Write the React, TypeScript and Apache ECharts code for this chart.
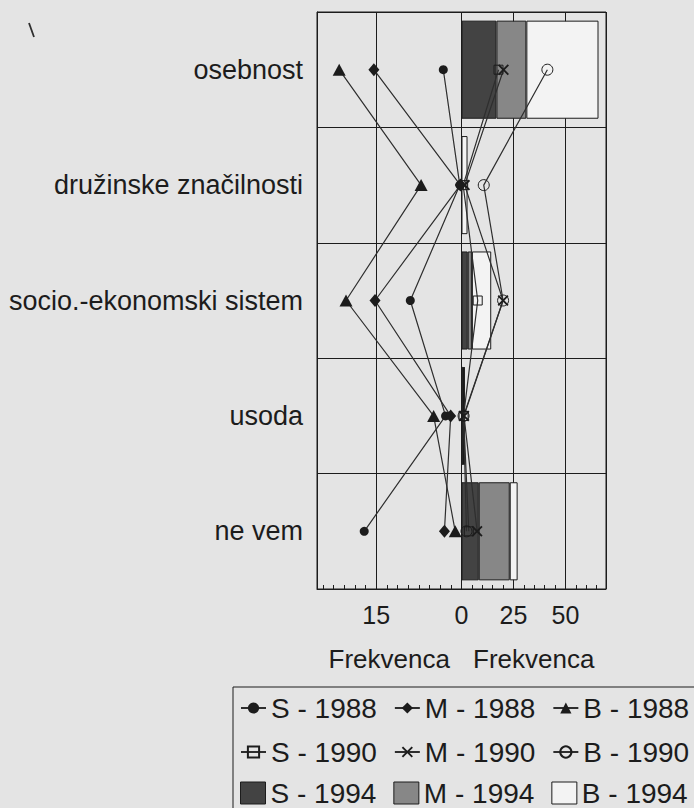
import React, { useEffect, useRef } from 'react';
import * as echarts from 'echarts';

// ---- data ----
const categories = ['osebnost', 'družinske značilnosti', 'socio.-ekonomski sistem', 'usoda', 'ne vem'];

// 1988 (left panel, frequency)
const s1988 = [3.2, 0.3, 9.0, 2.8, 17.1];
const m1988 = [15.4, 0.2, 15.2, 1.9, 3.0];
const b1988 = [21.5, 7.1, 20.3, 4.9, 1.1];
// 1990 (right panel)
const s1990 = [17.8, 0.8, 7.8, 1.0, 3.5];
const m1990 = [20.2, 1.5, 20.0, 1.2, 7.5];
const b1990 = [41.3, 10.7, 20.0, 1.0, 2.4];
// 1994 (right panel, stacked bars)
const s1994 = [16.8, 0, 3.0, 0.8, 8.3];
const m1994 = [14.4, 0, 2.0, 0.4, 14.9];
const b1994 = [34.7, 2.9, 9.3, 0.3, 3.8];

const leftTickLabels = [15];
const rightTickLabels = [0, 25, 50];
const axisTitle = 'Frekvenca';

const BG = '#e4e4e4';
const INK = '#1c1c1c';
const LINE = '#2e2e2e';
const FONT = '"Liberation Sans", Arial, Helvetica, sans-serif';

const L_MAX = 25.4;
const R_MAX = 69.5;

const X_PATH = 'path://M0,1.2L1.2,0L5,3.8L8.8,0L10,1.2L6.2,5L10,8.8L8.8,10L5,6.2L1.2,10L0,8.8L3.8,5Z';

export default function App() {
  const ref = useRef<HTMLDivElement>(null);

  useEffect(() => {
    document.body.style.margin = '0';
    document.body.style.background = BG;
    if (!ref.current) return;
    const chart = echarts.init(ref.current, undefined, { renderer: 'svg' });

    const lineBase = (name: string, data: number[], xi: number, yi: number, symbol: string, size: any, itemStyle: any) => ({
      type: 'line',
      name,
      data,
      xAxisIndex: xi,
      yAxisIndex: yi,
      symbol,
      symbolSize: size,
      showAllSymbol: true,
      clip: false,
      itemStyle,
      lineStyle: { color: LINE, width: 1.2 },
      z: 4,
    });

    const barBase = (name: string, data: number[], color: string) => ({
      type: 'bar',
      name,
      data,
      xAxisIndex: 2,
      yAxisIndex: 1,
      stack: 'y1994',
      barWidth: '85%',
      itemStyle: { color, borderColor: INK, borderWidth: 1 },
      z: 2,
    });

    const near = (v: number, arr: number[]) => arr.some((t) => Math.abs(v - t) < 1e-6);

    const option: any = {
      animation: false,
      backgroundColor: BG,
      textStyle: { fontFamily: FONT },
      grid: [
        { left: 317, top: 12, width: 144.5, height: 577, show: true, borderColor: INK, borderWidth: 1, backgroundColor: 'transparent' },
        { left: 461.5, top: 12, width: 144.5, height: 577, show: true, borderColor: INK, borderWidth: 1, backgroundColor: 'transparent' },
      ],
      xAxis: [
        {
          type: 'value', gridIndex: 0, inverse: true, min: 0, max: L_MAX, interval: 1.875, position: 'bottom',
          axisLine: { show: true, onZero: false, lineStyle: { color: INK, width: 1 } },
          axisTick: { show: true, inside: true, length: 4, lineStyle: { color: INK } },
          axisLabel: { formatter: (v: number) => (near(v, leftTickLabels) ? String(Math.round(v)) : ''), fontSize: 25, color: INK, margin: 13 },
          splitLine: { show: false },
          name: axisTitle, nameLocation: 'middle', nameGap: 57,
          nameTextStyle: { fontSize: 26, color: INK, fontFamily: FONT },
        },
        {
          type: 'value', gridIndex: 0, inverse: true, min: 0, max: L_MAX, interval: 15, position: 'bottom',
          axisLine: { show: false, onZero: false }, axisTick: { show: false }, axisLabel: { show: false },
          splitLine: { show: true, lineStyle: { color: INK, width: 1 } },
        },
        {
          type: 'value', gridIndex: 1, min: 0, max: R_MAX, interval: 5, position: 'bottom',
          axisLine: { show: true, onZero: false, lineStyle: { color: INK, width: 1 } },
          axisTick: { show: true, inside: true, length: 4, lineStyle: { color: INK } },
          axisLabel: { formatter: (v: number) => (near(v, rightTickLabels) ? String(Math.round(v)) : ''), fontSize: 25, color: INK, margin: 13 },
          splitLine: { show: false },
          name: axisTitle, nameLocation: 'middle', nameGap: 57,
          nameTextStyle: { fontSize: 26, color: INK, fontFamily: FONT },
        },
        {
          type: 'value', gridIndex: 1, min: 0, max: R_MAX, interval: 25, position: 'bottom',
          axisLine: { show: false, onZero: false }, axisTick: { show: false }, axisLabel: { show: false },
          splitLine: { show: true, lineStyle: { color: INK, width: 1 } },
        },
      ],
      yAxis: [
        {
          type: 'category', gridIndex: 0, data: categories, inverse: true,
          axisLine: { show: true, onZero: false, lineStyle: { color: INK } },
          axisTick: { show: false },
          axisLabel: { fontSize: 27, color: INK, margin: 14 },
          splitLine: { show: true, lineStyle: { color: INK, width: 1 } },
        },
        {
          type: 'category', gridIndex: 1, data: categories, inverse: true,
          axisLine: { show: false, onZero: false },
          axisTick: { show: false },
          axisLabel: { show: false },
          splitLine: { show: true, lineStyle: { color: INK, width: 1 } },
        },
      ],
      legend: [
        {
          data: ['S - 1988', 'M - 1988', 'B - 1988'], left: 240, top: 694, orient: 'horizontal',
          itemWidth: 25, itemHeight: 14, itemGap: 17, padding: 0, selectedMode: false,
          textStyle: { fontSize: 28, color: INK, fontFamily: FONT, lineHeight: 28 },
        },
        {
          data: ['S - 1990', 'M - 1990', 'B - 1990'], left: 240, top: 738, orient: 'horizontal',
          itemWidth: 25, itemHeight: 14, itemGap: 17, padding: 0, selectedMode: false,
          textStyle: { fontSize: 28, color: INK, fontFamily: FONT, lineHeight: 28 },
        },
        {
          data: ['S - 1994', 'M - 1994', 'B - 1994'], left: 240, top: 779, orient: 'horizontal',
          icon: 'rect', itemWidth: 25, itemHeight: 22, itemGap: 17, padding: 0, selectedMode: false,
          itemStyle: { borderWidth: 1 },
          textStyle: { fontSize: 28, color: INK, fontFamily: FONT, lineHeight: 28 },
        },
      ],
      graphic: [
        { type: 'rect', silent: true, z: 0, shape: { x: 233, y: 687, width: 470, height: 140 }, style: { fill: 'none', stroke: INK, lineWidth: 1 } },
        { type: 'line', silent: true, shape: { x1: 29, y1: 23, x2: 34, y2: 37 }, style: { stroke: LINE, lineWidth: 1.8 } },
      ],
      series: [
        lineBase('S - 1988', s1988, 0, 0, 'circle', 9, { color: INK }),
        lineBase('M - 1988', m1988, 0, 0, 'diamond', [11, 13], { color: INK }),
        lineBase('B - 1988', b1988, 0, 0, 'triangle', [13, 12], { color: INK }),
        barBase('S - 1994', s1994, '#434343'),
        barBase('M - 1994', m1994, '#878787'),
        barBase('B - 1994', b1994, '#f3f3f3'),
        lineBase('S - 1990', s1990, 2, 1, 'rect', 9, { color: 'rgba(0,0,0,0)', borderColor: INK, borderWidth: 1 }),
        lineBase('M - 1990', m1990, 2, 1, X_PATH, 11, { color: INK, borderColor: INK, borderWidth: 0 }),
        lineBase('B - 1990', b1990, 2, 1, 'circle', 11, { color: 'rgba(0,0,0,0)', borderColor: INK, borderWidth: 1 }),
      ],
    };

    chart.setOption(option);
    return () => chart.dispose();
  }, []);

  return <div ref={ref} style={{ width: 694, height: 808 }} />;
}
